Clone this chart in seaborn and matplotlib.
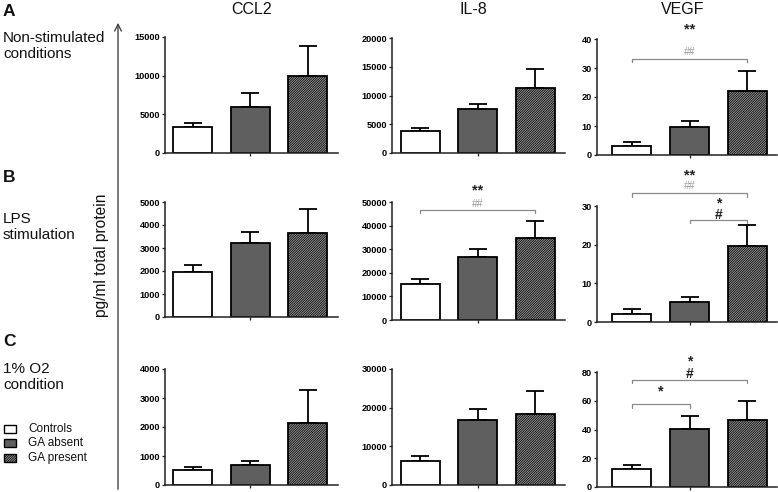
import matplotlib
matplotlib.use("Agg")
import matplotlib.pyplot as plt
import seaborn as sns
import numpy as np
import pandas as pd
from matplotlib.patches import Rectangle

sns.set_theme(style="white")
plt.rcParams["font.family"] = ["Liberation Sans", "DejaVu Sans"]
plt.rcParams["hatch.linewidth"] = 0.55

# ---------------- data ----------------
groups = ["Controls", "GA absent", "GA present"]
cytokines = ["CCL2", "IL-8", "VEGF"]
conditions = ["A", "B", "C"]
condition_labels = ["Non-stimulated\nconditions", "LPS\nstimulation", "1% O2\ncondition"]

ccl2_a = [3400, 6000, 10000]
ccl2_a_err = [450, 1800, 3900]
il8_a = [3750, 7700, 11300]
il8_a_err = [650, 900, 3300]
vegf_a = [3.2, 9.5, 22.2]
vegf_a_err = [1.4, 2.2, 6.7]

ccl2_b = [1960, 3230, 3670]
ccl2_b_err = [290, 450, 1040]
il8_b = [15200, 26800, 34900]
il8_b_err = [2100, 3200, 6900]
vegf_b = [2.1, 5.1, 19.7]
vegf_b_err = [1.2, 1.3, 5.4]

ccl2_c = [520, 690, 2130]
ccl2_c_err = [90, 150, 1140]
il8_c = [6300, 16800, 18400]
il8_c_err = [1200, 2800, 5800]
vegf_c = [12.8, 40.4, 46.4]
vegf_c_err = [2.7, 9.0, 13.7]

yticks_a = [[0, 5000, 10000, 15000], [0, 5000, 10000, 15000, 20000], [0, 10, 20, 30, 40]]
yticks_b = [[0, 1000, 2000, 3000, 4000, 5000], [0, 10000, 20000, 30000, 40000, 50000], [0, 10, 20, 30]]
yticks_c = [[0, 1000, 2000, 3000, 4000], [0, 10000, 20000, 30000], [0, 20, 40, 60, 80]]

means = [[ccl2_a, il8_a, vegf_a], [ccl2_b, il8_b, vegf_b], [ccl2_c, il8_c, vegf_c]]
errs = [[ccl2_a_err, il8_a_err, vegf_a_err], [ccl2_b_err, il8_b_err, vegf_b_err],
        [ccl2_c_err, il8_c_err, vegf_c_err]]
yticks = [yticks_a, yticks_b, yticks_c]

# significance brackets: (row, col, i, j, bracket_y, [(label, label_y, kind)])
brackets = [
    (0, 2, 0, 2, 33.1, [("##", 35.4, "hh"), ("**", 43.4, "star")]),
    (1, 1, 0, 2, 46800, [("##", 49300, "hh"), ("**", 54900, "star")]),
    (1, 2, 0, 2, 33.3, [("##", 35.2, "hh"), ("**", 38.0, "star")]),
    (1, 2, 1, 2, 26.4, [("*\n#", 29.2, "pair")]),
    (2, 2, 0, 2, 74.7, [("*\n#", 83.0, "pair")]),
    (2, 2, 0, 1, 57.5, [("*", 66.6, "star")]),
]

# ---------------- layout (pixels) ----------------
W, H = 778, 492
fig = plt.figure(figsize=(W / 100, H / 100), dpi=100)

col_x = [(165, 338), (392, 565), (597, 777)]
col_xlim = [(-0.48, 2.53), (-0.49, 2.52), (-0.60, 2.51)]
row_y = [[(37, 153), (38, 153), (39, 155)],
         [(202, 317), (202, 320), (206, 322)],
         [(369, 485), (369, 485), (372, 487)]]

bar_colors = ["white", "#5f5f5f", "#9a9a9a"]
hatch = "/" * 14

# overlay axes in pixel coordinates
ax0 = fig.add_axes([0, 0, 1, 1])
ax0.set_xlim(0, W)
ax0.set_ylim(H, 0)
ax0.axis("off")

axes = {}
for r in range(3):
    for c in range(3):
        x0, x1 = col_x[c]
        yt, yb = row_y[r][c]
        ax = fig.add_axes([x0 / W, 1 - yb / H, (x1 - x0) / W, (yb - yt) / H])
        df = pd.DataFrame({"group": groups, "value": means[r][c]})
        sns.barplot(data=df, x="group", y="value", hue="group", palette=bar_colors,
                    order=groups, hue_order=groups, width=0.68, edgecolor="black",
                    linewidth=1.3, errorbar=None, legend=False, ax=ax, zorder=2)
        bars = sorted(ax.patches, key=lambda p: p.get_x())
        bars[2].set_hatch(hatch)
        ax.errorbar(np.arange(3), means[r][c], yerr=[np.zeros(3), errs[r][c]],
                    fmt="none", ecolor="black", elinewidth=1.3, capsize=6.5,
                    capthick=1.3, zorder=1)
        ax.set_xlim(*col_xlim[c])
        ax.set_ylim(0, yticks[r][c][-1])
        ax.set_yticks(yticks[r][c])
        ax.set_yticklabels([str(t) for t in yticks[r][c]], fontsize=6.6,
                           fontweight="bold", color="black")
        ax.set_xticks([1])
        ax.set_xticklabels([""])
        ax.set_xlabel("")
        ax.set_ylabel("")
        for s in ["top", "right"]:
            ax.spines[s].set_visible(False)
        for s in ["left", "bottom"]:
            ax.spines[s].set_color("#222222")
            ax.spines[s].set_linewidth(1.1)
        ax.tick_params(axis="both", direction="out", length=2.5, width=0.9,
                       colors="#222222", labelcolor="black", pad=1,
                       left=True, bottom=True)
        ax.set_facecolor("none")
        axes[(r, c)] = ax

# significance annotations
for (r, c, i, j, yb, labels) in brackets:
    ax = axes[(r, c)]
    top = yticks[r][c][-1]
    drop = 0.03 * top
    ax.plot([i, i, j, j], [yb - drop, yb, yb, yb - drop], color="#8a8a8a", lw=0.9,
            clip_on=False)
    xm = (i + j) / 2
    for text, ly, kind in labels:
        if kind == "star":
            ax.text(xm, ly, text, ha="center", va="center", fontsize=10.5,
                    fontweight="bold", color="#222222", clip_on=False)
        elif kind == "hh":
            ax.text(xm, ly, text, ha="center", va="center", fontsize=7.5,
                    color="#9a9a9a", clip_on=False)
        else:
            ax.text(xm, ly, text, ha="center", va="center", fontsize=10,
                    fontweight="bold", color="#222222", clip_on=False,
                    linespacing=0.8, multialignment="center")

# column titles
title_x = [252, 473, 683]
for name, tx in zip(cytokines, title_x):
    ax0.text(tx, 10, name, ha="center", va="center", fontsize=11.5, color="#111111")

# row letters and labels
letter_y = [12, 178, 342]
label_y = [46, 227, 377]
for letter, ly, lab, yy in zip(conditions, letter_y, condition_labels, label_y):
    ax0.text(3, ly, letter, ha="left", va="center", fontsize=12.5, fontweight="bold",
             color="#111111")
    ax0.text(3, yy, lab, ha="left", va="center", fontsize=11, color="#111111",
             linespacing=1.25)

# vertical arrow and axis label
ax0.annotate("", xy=(118, 20), xytext=(118, 492),
             arrowprops=dict(arrowstyle="->", lw=1.0, color="#444444",
                             mutation_scale=12))
ax0.text(102, 255, "pg/ml total protein", rotation=90, ha="center", va="center",
         fontsize=11.2, color="#111111")

# legend
leg_y = [429, 443, 458]
for g, col, yy, k in zip(groups, bar_colors, leg_y, range(3)):
    rect = Rectangle((4, yy - 4), 12, 8, facecolor=col, edgecolor="black", lw=1.0,
                     hatch=hatch if k == 2 else None)
    ax0.add_patch(rect)
    ax0.text(28, yy, g, ha="left", va="center", fontsize=8.5, color="#111111")

fig.savefig("out.png", dpi=100)
